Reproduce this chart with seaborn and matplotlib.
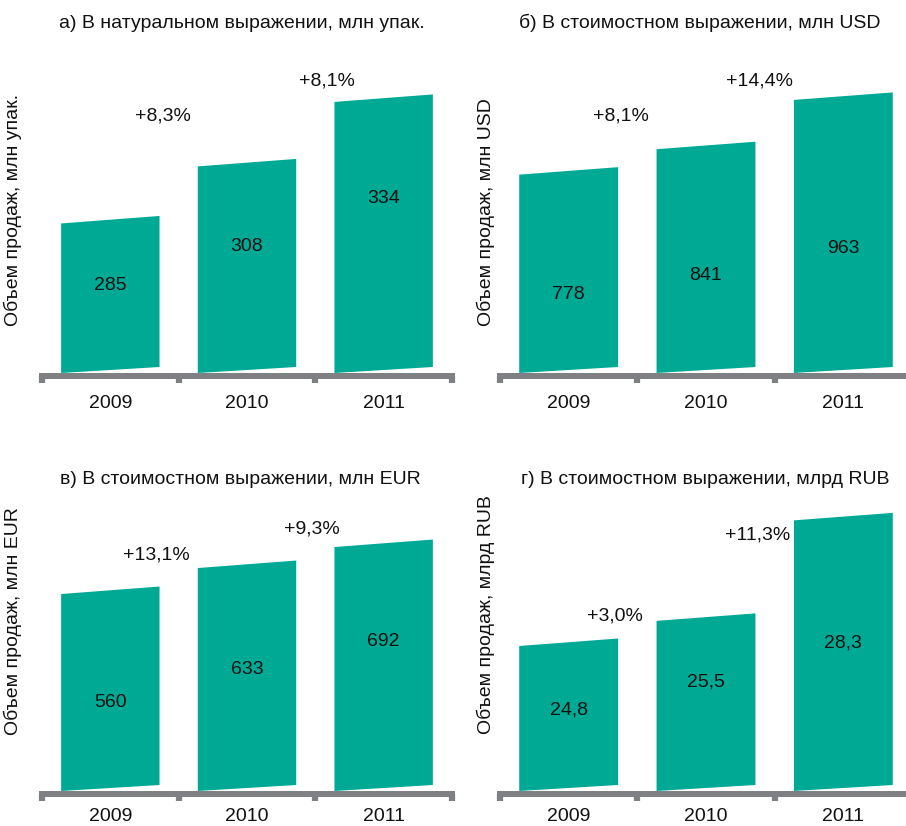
#### Pharma market: sales volume 2009-2011, four panels

import numpy as np
import pandas as pd
import matplotlib
matplotlib.use("Agg")
import matplotlib.pyplot as plt
from matplotlib.patches import Polygon
import seaborn as sns

### Data
YEARS = ["2009", "2010", "2011"]

units_mln = [285, 308, 334]
usd_mln = [778, 841, 963]
eur_mln = [560, 633, 692]
rub_bln = [24.8, 25.5, 28.3]

growth_units = ["+8,3%", "+8,1%"]
growth_usd = ["+8,1%", "+14,4%"]
growth_eur = ["+13,1%", "+9,3%"]
growth_rub = ["+3,0%", "+11,3%"]

TITLES = [
    "а) В натуральном выражении, млн упак.",
    "б) В стоимостном выражении, млн USD",
    "в) В стоимостном выражении, млн EUR",
    "г) В стоимостном выражении, млрд RUB",
]
YLABELS = [
    "Объем продаж, млн упак.",
    "Объем продаж, млн USD",
    "Объем продаж, млн EUR",
    "Объем продаж, млрд RUB",
]

### Style
sns.set_style("white")
plt.rcParams["font.family"] = ["Liberation Sans", "DejaVu Sans"]

TEAL = "#00A994"
GREY = "#7F8083"
INK = "#111111"
FS = 14
SKEW_PX = 6  # how much the bar edges rise from left to right, px

FW, FH = 906, 826
fig = plt.figure(figsize=(FW / 100, FH / 100), dpi=100)
fig.patch.set_facecolor("white")


def px_axes(left, right, top, bottom):
    return fig.add_axes([left / FW, 1 - bottom / FH, (right - left) / FW, (bottom - top) / FH])


def fmt(v):
    return f"{v:g}".replace(".", ",")


def draw_panel(ax, values, growth, growth_pos, label_y, ylim, ylabel, ylabel_pos, year_pad=14):
    sns.barplot(x=YEARS, y=values, color=TEAL, saturation=1, width=0.72, ax=ax)
    ax.set_xlim(-0.5, 2.5)
    ax.set_ylim(*ylim)
    ax.set_facecolor("none")

    # turn the flat bars into slightly skewed ones
    rise = SKEW_PX * (ylim[1] - ylim[0]) / ax.bbox.height
    for p, v, ly in zip(list(ax.patches), values, label_y):
        x0 = p.get_x()
        x1 = x0 + p.get_width()
        top = p.get_height()
        p.remove()
        ax.add_patch(Polygon([(x0, ylim[0]), (x1, ylim[0] + rise), (x1, top + rise + 1.5 * rise / SKEW_PX), (x0, top)],
                             closed=True, facecolor=TEAL, edgecolor="none", clip_on=False))
        ax.text((x0 + x1) / 2, ly, fmt(v), transform=ax.get_xaxis_transform(),
                ha="center", va="center", fontsize=FS, color=INK)

    for txt, (gx, gy) in zip(growth, growth_pos):
        ax.text(gx, gy, txt, transform=ax.get_xaxis_transform(),
                ha="center", va="center", fontsize=FS, color=INK)

    # grey baseline with stubs between categories
    for s in ["left", "top", "right"]:
        ax.spines[s].set_visible(False)
    ax.spines["bottom"].set_color(GREY)
    ax.spines["bottom"].set_linewidth(4.3)
    ax.spines["bottom"].set_position(("outward", 2.2))
    ax.set_xticks([-0.5, 0.5, 1.5, 2.5], minor=True)
    ax.tick_params(axis="x", which="major", bottom=True, length=0, pad=year_pad,
                   labelsize=FS, labelcolor=INK)
    ax.tick_params(axis="x", which="minor", bottom=True, length=5, width=4.5,
                   color=GREY, direction="out")
    ax.set_yticks([])
    ax.set_xlabel("")
    ax.set_ylabel(ylabel, fontsize=FS, color=INK)
    ax.yaxis.set_label_coords(*ylabel_pos)


### Layout (pixels of the 906x826 canvas)
ax_a = px_axes(42, 452, 60, 373)
ax_b = px_axes(500, 912, 60, 373)
ax_c = px_axes(42, 452, 478, 791)
ax_d = px_axes(500, 912, 478, 791)

draw_panel(ax_a, units_mln, growth_units, [(0.385, 0.821), (1.585, 0.933)],
           [0.281, 0.403, 0.556], (224.7, 350.9), YLABELS[0], (-0.049, 0.521))
draw_panel(ax_b, usd_mln, growth_usd, [(0.381, 0.821), (1.386, 0.933)],
           [0.252, 0.310, 0.399], (287.0, 1061.8), YLABELS[1], (-0.012, 0.514))
draw_panel(ax_c, eur_mln, growth_eur, [(0.334, 0.754), (1.475, 0.837)],
           [0.284, 0.387, 0.479], (6.7, 885.9), YLABELS[2], (-0.049, 0.543), year_pad=10)
draw_panel(ax_d, rub_bln, growth_rub, [(0.338, 0.559), (1.379, 0.818)],
           [0.259, 0.348, 0.473], (20.76, 29.48), YLABELS[3], (-0.012, 0.565), year_pad=10)

for title, (tx, ty) in zip(TITLES, [(242, 23), (700, 23), (240, 480), (705, 480)]):
    fig.text(tx / FW, 1 - ty / FH, title, ha="center", va="center", fontsize=FS, color=INK)

fig.savefig("out.png", dpi=100, facecolor="white")
